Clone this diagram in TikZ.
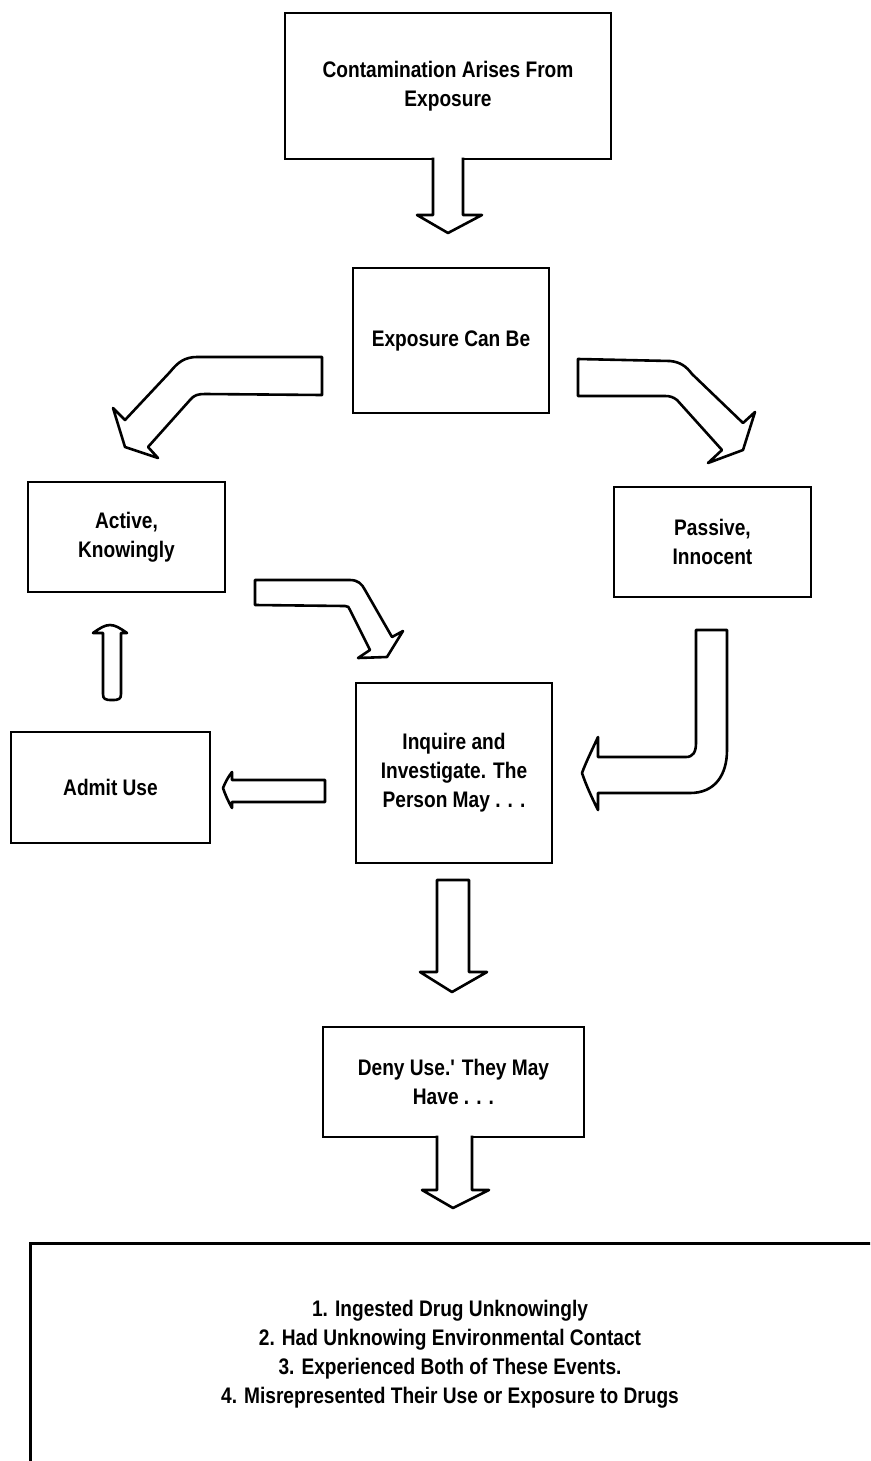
\documentclass[tikz,border=0pt]{standalone}
\usepackage{fontspec}
\newfontfamily\lf[FakeStretch=0.85]{Liberation Sans}
\begin{document}
\begin{tikzpicture}[x=1pt,y=-1pt,
  box/.style={draw, line width=2.6pt, align=center, inner sep=0pt,
    font=\lf\bfseries\fontsize{22.5}{29}\selectfont},
  txt/.style={align=center, inner sep=0pt,
    font=\lf\bfseries\fontsize{22.5}{29}\selectfont},
  blockarrow/.style={draw, line width=2.6pt, fill=white, line join=round}]
\useasboundingbox (0,0) rectangle (870,1461);
\clip (0,0) rectangle (870,1461);
\fill[white] (0,0) rectangle (870,1461);

% boxes
\node[box, minimum width=326pt, minimum height=146pt] (top) at (448,86)
  {Contamination Arises From\\Exposure};
\node[box, minimum width=196pt, minimum height=145pt] (exp) at (451,340.5)
  {Exposure Can Be};
\node[box, minimum width=197pt, minimum height=110pt] (act) at (126.5,537)
  {Active,\\Knowingly};
\node[box, minimum width=197pt, minimum height=110pt] (pas) at (712.5,542)
  {Passive,\\Innocent};
\node[box, minimum width=199pt, minimum height=111pt] (adm) at (110.5,787.5)
  {Admit Use};
\node[box, minimum width=196pt, minimum height=180pt] (inq) at (454,773)
  {Inquire and\\Investigate. The\\Person May . . .};
\node[box, minimum width=261pt, minimum height=110pt] (deny) at (453.5,1082)
  {Deny Use.' They May\\Have . . .};
\node[box, minimum width=880pt, minimum height=260pt, anchor=north west] (big) at (29,1242) {};
\node[txt] (list) at (450,1354)
  {1. Ingested Drug Unknowingly\\
   2. Had Unknowing Environmental Contact\\
   3. Experienced Both of These Events.\\
   4. Misrepresented Their Use or Exposure to Drugs};

% straight down arrows
\path[blockarrow] (433,157.5) -- (433,215) -- (417,215) -- (448,233) -- (482,215) -- (463,215) -- (463,157.5);
\path[blockarrow] (437,880) -- (437,972) -- (420,972) -- (452,992) -- (487,972) -- (469,972) -- (469,880) -- cycle;
\path[blockarrow] (437,1135.5) -- (437,1190) -- (422,1190) -- (453,1208) -- (489,1190) -- (472,1190) -- (472,1135.5);

% up arrow to Active
\path[blockarrow] (103,633) -- (103,694) .. controls (103,699) and (105,700) .. (112,700)
  .. controls (119,700) and (121,699) .. (121,694) -- (121,633) -- (127,633)
  .. controls (120,628) and (115,625) .. (110,625) .. controls (105,625) and (100,628) .. (93,633) -- cycle;

% left arrow to Admit
\path[blockarrow] (325,780) -- (232,780) -- (232,772) .. controls (228,777) and (225,783) .. (223,788)
  .. controls (225,794) and (228,801) .. (232,808) -- (232,802) -- (325,802) -- cycle;

% curved arrow Exposure -> Active
\path[blockarrow] (322,357) -- (197,357) .. controls (185,357) and (178,362) .. (170,372)
  -- (125,420) -- (113,408) -- (125,447) -- (158,458) -- (148,447) -- (190,400)
  .. controls (194,395) and (198,394) .. (205,394) -- (322,395) -- cycle;

% curved arrow Exposure -> Passive
\path[blockarrow] (578,359) -- (670,361) .. controls (680,362) and (686,366) .. (692,374)
  -- (743,423) -- (755,412) -- (743,450) -- (708,463) -- (722,450) -- (677,400)
  .. controls (673,397) and (670,396) .. (665,396) -- (578,396) -- cycle;

% curved arrow Active -> Inquire
\path[blockarrow] (255,580) -- (350,580) .. controls (358,580) and (362,584) .. (365,590)
  -- (392,637) -- (403,631) -- (387,657) -- (358,658) -- (370,650) -- (350,610)
  .. controls (349,607) and (348,606) .. (345,606) -- (255,605) -- cycle;

% curved arrow Passive -> Inquire
\path[blockarrow] (696,630) -- (696,743) .. controls (696,752) and (693,757) .. (686,757)
  -- (598,757) -- (598,737) .. controls (592,750) and (586,762) .. (582,773)
  .. controls (586,785) and (592,798) .. (598,810) -- (598,793) -- (690,793)
  .. controls (715,793) and (727,775) .. (727,750) -- (727,630) -- cycle;
\end{tikzpicture}
\end{document}
